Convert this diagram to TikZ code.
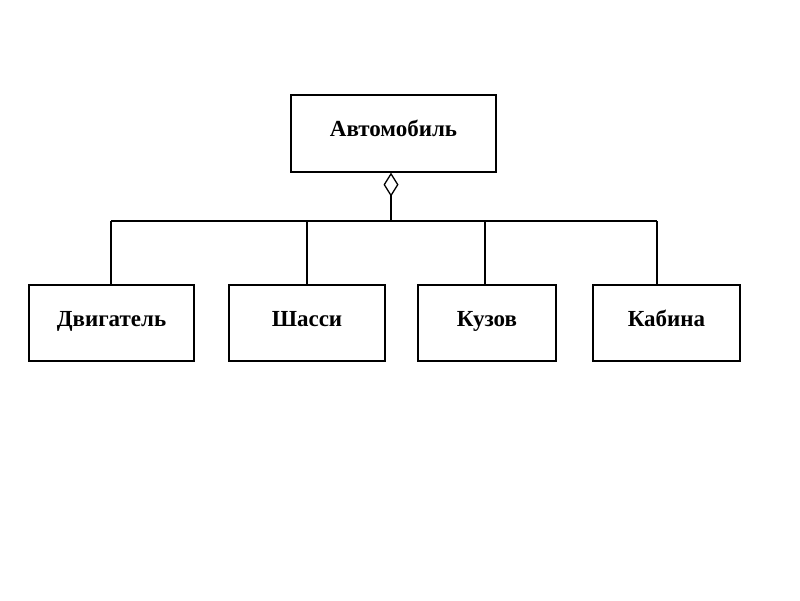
\documentclass[tikz,border=0pt]{standalone}
\usepackage{fontspec}
\setmainfont{Liberation Serif}
\usetikzlibrary{arrows.meta}

\begin{document}
\begin{tikzpicture}[x=1pt,y=-1pt,line width=1.3pt,
    blockbox/.style={draw,inner sep=0pt,minimum height=76,text height=14pt,text depth=8pt,
      font=\fontsize{23}{26}\selectfont\bfseries}]
    \useasboundingbox (0,0) rectangle (800,600);
    % whole and parts
    \node [blockbox, minimum width=205, minimum height=77] (avto) at (393.5,133.5) {Автомобиль};
    \node [blockbox, minimum width=165] (dvig) at (111.5,323) {Двигатель};
    \node [blockbox, minimum width=156] (shas) at (307,323) {Шасси};
    \node [blockbox, minimum width=138] (kuz) at (487,323) {Кузов};
    \node [blockbox, minimum width=147] (kab) at (666.5,323) {Кабина};
    % bus
    \coordinate (hub) at (391,221);
    \coordinate (t1) at (111,221);
    \coordinate (t2) at (307,221);
    \coordinate (t3) at (485,221);
    \coordinate (t4) at (657,221);
    \draw [{Diamond[open,length=24pt,width=15pt]}-] (hub |- avto.south) -- (hub);
    \draw (t1) -- (t4);
    \foreach \t/\b in {t1/dvig,t2/shas,t3/kuz,t4/kab}
      \draw (\t) -- (\t |- \b.north);
  \end{tikzpicture}
\end{document}
